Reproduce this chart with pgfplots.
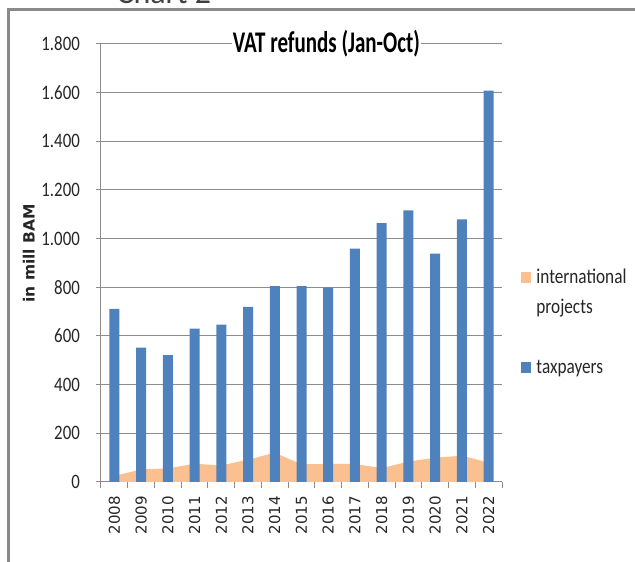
\documentclass[border=0pt]{standalone}
\usepackage{pgfplots}
\pgfplotsset{compat=1.18}
\usepackage{fontspec}
\setmainfont{Carlito}
\newfontfamily\calib[FakeStretch=0.82]{Carlito}
\newfontfamily\titlefont[FakeStretch=0.70]{Carlito}
\newfontfamily\dejavu{DejaVu Sans}
\definecolor{barblue}{HTML}{4F81BD}
\definecolor{areaorange}{HTML}{FAC090}
\definecolor{gridgray}{HTML}{8C8C8C}
\definecolor{framegray}{HTML}{8A8A8A}
\definecolor{txt}{HTML}{262626}

\pgfplotstableread{
idx tax intl
0 711 25
1 552 52
2 521 56
3 630 75
4 647 68
5 720 92
6 805 120
7 805 73
8 799 74
9 959 74
10 1064 57
11 1116 84
12 939 100
13 1079 108
14 1608 80
}\vatdata

\begin{document}
\begin{tikzpicture}
\useasboundingbox (0pt,0pt) rectangle (635pt,562pt);
\begin{axis}[
  at={(101pt,80pt)}, anchor=south west,
  scale only axis, width=401pt, height=438pt,
  xmin=-0.5, xmax=14.5, ymin=0, ymax=1800,
  axis lines*=left,
  axis line style={gridgray, line width=1pt},
  ytick={0,200,...,1800},
  yticklabels={0,200,400,600,800,{1.000},{1.200},{1.400},{1.600},{1.800}},
  ymajorgrids,
  major grid style={gridgray, line width=1pt},
  tick align=outside,
  major tick length=5pt,
  minor tick length=6pt,
  ytick style={gridgray, line width=1pt},
  xtick={0,...,14},
  xticklabels={2008,2009,2010,2011,2012,2013,2014,2015,2016,2017,2018,2019,2020,2021,2022},
  major x tick style={draw=none},
  minor xtick={-0.5,0.5,...,14.5},
  minor x tick style={gridgray, line width=1pt},
  xticklabel shift=9pt,
  yticklabel shift=16pt,
  xticklabel style={font=\dejavu\fontsize{15}{18}\selectfont, rotate=90, anchor=east, inner sep=0pt, text=txt},
  yticklabel style={font=\calib\fontsize{20.5}{24}\selectfont, anchor=east, inner sep=0pt, text=txt},
  ylabel={in mill BAM},
  ylabel style={at={(axis description cs:-0.18,0.522)}, anchor=center, font=\dejavu\bfseries\fontsize{15.5}{18}\selectfont, text=txt},
  title={VAT refunds (Jan-Oct)},
  title style={at={(axis description cs:0.562,0.968)}, anchor=base, font=\titlefont\bfseries\fontsize{30}{34}\selectfont, fill=white, inner sep=1pt, text=black},
  legend style={at={(axis description cs:1.048,0.5)}, anchor=north west, draw=none, fill=none,
    font=\calib\fontsize{21}{25}\selectfont, text=txt, row sep=0pt, inner sep=0pt,
    cells={anchor=west},
    nodes={inner sep=0pt, text height=20pt, text depth=10pt},
    /tikz/every odd column/.append style={column sep=5pt}},
]
\addplot[fill=areaorange, draw=none,
  legend image code/.code={\fill[areaorange] (0pt,-5pt) rectangle (10pt,6pt);}]
  table[x=idx, y=intl] {\vatdata} \closedcycle;
\addlegendentry{international}
\addlegendimage{empty legend}
\addlegendentry{projects}
\addlegendimage{empty legend}
\addlegendentry{}
\addplot[ybar, bar width=10pt, fill=barblue, draw=none,
  legend image code/.code={\fill[barblue] (0pt,-5pt) rectangle (10pt,6pt);}]
  table[x=idx, y=tax] {\vatdata};
\addlegendentry{taxpayers}
\end{axis}
\node[anchor=base west, font=\fontsize{32}{36}\selectfont, text=black!75] at (113pt,558pt) {Chart 2};
\draw[framegray, line width=2.5pt] (8.5pt,0pt) -- (8.5pt,552.5pt) -- (635pt,552.5pt);
\end{tikzpicture}
\end{document}
